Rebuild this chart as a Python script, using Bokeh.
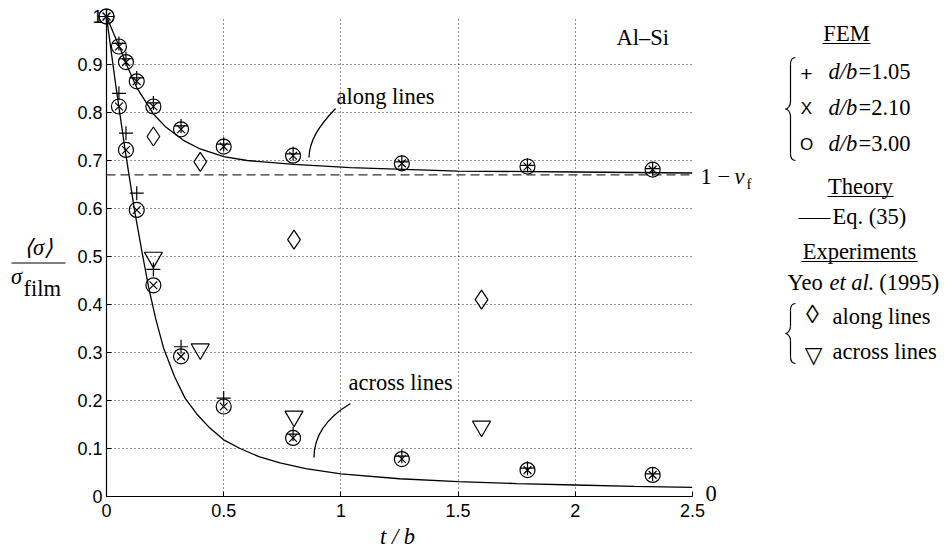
from bokeh.plotting import figure
from bokeh.models import Range1d, CustomJSTickFormatter, Span
from bokeh.core.properties import value
from bokeh.embed import file_html
from bokeh.resources import INLINE

# ---------------- data ----------------
x_ticks = [0, 0.5, 1, 1.5, 2, 2.5]
y_ticks = [0, 0.1, 0.2, 0.3, 0.4, 0.5, 0.6, 0.7, 0.8, 0.9, 1.0]

# FEM results (t/b)
t_fem = [0, 0.053, 0.083, 0.129, 0.2, 0.318, 0.5, 0.796, 1.26, 1.796, 2.33]
along_db105 = [1.0, 0.944, 0.912, 0.872, 0.82, 0.772, 0.734, 0.714, 0.697, 0.69, 0.683]
along_db210 = [1.0, 0.9375, 0.905, 0.865, 0.8125, 0.765, 0.729, 0.71, 0.694, 0.6875, 0.681]
along_db300 = [1.0, 0.9375, 0.905, 0.865, 0.8125, 0.765, 0.729, 0.71, 0.694, 0.6875, 0.681]
across_db105 = [1.0, 0.84, 0.757, 0.632, 0.473, 0.312, 0.205, 0.13, 0.084, 0.059, 0.047]
across_db210 = [1.0, 0.8125, 0.722, 0.597, 0.44, 0.292, 0.1875, 0.122, 0.078, 0.055, 0.045]
across_db300 = [1.0, 0.8125, 0.722, 0.597, 0.44, 0.292, 0.1875, 0.122, 0.078, 0.055, 0.045]

# Experiments, Yeo et al. (1995)
t_exp = [0.2, 0.4, 0.8, 1.6]
exp_along = [0.75, 0.697, 0.535, 0.41]
exp_across = [0.498, 0.307, 0.167, 0.146]

# Theory, Eq. (35)
t_eq35_along = [0, 0.03, 0.057, 0.09, 0.129, 0.2, 0.25, 0.328, 0.4, 0.5, 0.6,
                0.8, 1.04, 1.5, 2.0, 2.5]
eq35_along = [1.0, 0.965, 0.935, 0.895, 0.852, 0.797, 0.771, 0.742, 0.724, 0.708,
              0.700, 0.692, 0.685, 0.678, 0.676, 0.674]
t_eq35_across = [0, 0.04, 0.08, 0.12, 0.155, 0.18, 0.21, 0.243, 0.29, 0.335, 0.385,
                 0.44, 0.5, 0.57, 0.65, 0.74, 0.85, 1.0, 1.25, 1.5, 1.75, 2.0, 2.25, 2.5]
eq35_across = [1.0, 0.855, 0.72, 0.595, 0.5, 0.435, 0.37, 0.31, 0.25, 0.205, 0.172,
               0.143, 0.118, 0.1, 0.083, 0.07, 0.058, 0.047, 0.037, 0.031, 0.027,
               0.024, 0.021, 0.019]

one_minus_nu_f = 0.67

# ---------------- layout ----------------
W, H = 946, 551
L, R, T, B = 106, 254, 16, 55
FW, FH = W - L - R, H - T - B
X0, X1, Y0, Y1 = 0, 2.5, 0, 1.0


def DX(px):
    return X0 + (px - L) / FW * (X1 - X0)


def DY(py):
    return Y0 + (H - B - py) / FH * (Y1 - Y0)


SERIF = "Liberation Serif"
SANS = "Liberation Sans"
FSZ = 22.5

p = figure(width=W, height=H, x_range=Range1d(X0, X1), y_range=Range1d(Y0, Y1),
           output_backend="svg", toolbar_location=None, title=None,
           min_border_left=L, min_border_right=R, min_border_top=T,
           min_border_bottom=B)
p.outline_line_color = None
p.background_fill_color = "white"
p.border_fill_color = "white"

fmt = CustomJSTickFormatter(code="return String(Math.round(tick*10)/10)")
for ax, ticks in ((p.xaxis, x_ticks), (p.yaxis, y_ticks)):
    ax.ticker = ticks
    ax.formatter = fmt
    ax.major_tick_in = 5
    ax.major_tick_out = 0
    ax.minor_tick_line_color = None
    ax.axis_line_color = "black"
    ax.axis_line_width = 1.2
    ax.major_tick_line_color = "black"
    ax.major_label_text_font = SANS
    ax.major_label_text_font_size = "18px"
    ax.major_label_text_color = "black"
p.xaxis.major_label_standoff = 7
p.yaxis.major_label_standoff = 4

for g in (p.xgrid, p.ygrid):
    g.grid_line_color = "black"
    g.grid_line_alpha = 0.85
    g.grid_line_dash = "1 3"
    g.grid_line_width = 1

# asymptote 1 - nu_f
p.add_layout(Span(location=one_minus_nu_f, dimension="width", line_color="#333333",
                  line_dash="9 5", line_width=1.1))

# theory curves
p.line(t_eq35_along, eq35_along, line_color="black", line_width=1.3)
p.line(t_eq35_across, eq35_across, line_color="black", line_width=1.3)


def mark(xs, ys, marker, size, lw=1.2):
    r = p.scatter(xs, ys, marker=marker, size=size, fill_color=None,
                  line_color="black", line_width=lw)
    r.level = "overlay"
    return r


# FEM markers
mark(t_fem, along_db300, "circle", 15)
mark(t_fem, along_db210, "x", 11)
mark(t_fem, along_db105, "cross", 14)
mark(t_fem, across_db300, "circle", 15)
mark(t_fem, across_db210, "x", 11)
mark(t_fem, across_db105, "cross", 14)

# experiments
mark(t_exp, exp_along, "diamond", 19)
mark(t_exp, exp_across, "inverted_triangle", 18)


def lab(text, px, py, size=FSZ, font=SERIF, style="normal", align="left"):
    # py is the desired alphabetic baseline (pixels from top)
    py = py - 0.31 * size
    r = p.text(x=[DX(px)], y=[DY(py)], text=[text], text_font=value(font),
               text_font_size=value(f"{size}px"), text_font_style=value(style),
               text_align=value(align), text_baseline=value("alphabetic"),
               text_color="black")
    r.level = "overlay"


def bez(segs, lw=1.3):
    r = p.bezier(x0=[DX(s[0][0]) for s in segs], y0=[DY(s[0][1]) for s in segs],
                 cx0=[DX(s[1][0]) for s in segs], cy0=[DY(s[1][1]) for s in segs],
                 cx1=[DX(s[2][0]) for s in segs], cy1=[DY(s[2][1]) for s in segs],
                 x1=[DX(s[3][0]) for s in segs], y1=[DY(s[3][1]) for s in segs],
                 line_color="black", line_width=lw)
    r.level = "overlay"


def seg(pts, lw=1.3):
    r = p.segment(x0=[DX(a[0]) for a, b in pts], y0=[DY(a[1]) for a, b in pts],
                  x1=[DX(b[0]) for a, b in pts], y1=[DY(b[1]) for a, b in pts],
                  line_color="black", line_width=lw)
    r.level = "overlay"


# in-plot annotations
lab("Al–Si", 616, 44)
lab("along lines", 336, 103)
lab("across lines", 348, 389)
bez([((308.5, 157), (309, 140), (318, 126), (335, 108))])
bez([((313.5, 457), (313.5, 433), (330, 415), (350, 403))])

# right-side labels
lab("1 −", 700, 183)
lab("ν", 734, 183, style="italic")
lab("f", 746, 188, size=15)
lab("0", 705, 500)

# axis labels
lab("t / b", 397, 543, style="italic", align="center")
lab("⟨σ⟩", 38, 254, align="center", style="italic")
seg([((11, 262.5), (65, 262.5))], lw=1.2)
lab("σ", 16, 283, align="center", style="italic")
lab("film", 23, 295)

# ---- legend ----
lab("FEM", 846, 40, align="center")
seg([((822, 43), (870, 43))], lw=1.1)


def brace(xr, top, bot):
    mid = (top + bot) / 2
    xs, xt = xr - 5, xr - 10
    bez([((xr, top), (xs + 1, top), (xs, top + 3), (xs, top + 7)),
         ((xs, mid - 7), (xs, mid - 3), (xt + 2, mid), (xt, mid)),
         ((xt, mid), (xt + 2, mid), (xs, mid + 3), (xs, mid + 7)),
         ((xs, bot - 7), (xs, bot - 3), (xs + 1, bot), (xr, bot))], lw=1.2)
    seg([((xs, top + 7), (xs, mid - 7)), ((xs, mid + 7), (xs, bot - 7))], lw=1.2)


brace(795, 57, 160)
lab("+", 806, 80, size=21, font=SANS, align="center")
lab("X", 806, 113.5, size=17, font=SANS, align="center")
lab("O", 806, 149.5, size=17, font=SANS, align="center")
for yb, txt in ((78, "=1.05"), (113.5, "=2.10"), (149.5, "=3.00")):
    lab("d/b", 828, yb, style="italic")
    lab(txt, 858, yb)

lab("Theory", 860, 193, align="center")
seg([((827, 196), (893, 196))], lw=1.1)
seg([((798, 218), (830, 218))], lw=1.2)
lab("Eq. (35)", 832, 223)
lab("Experiments", 859, 258, align="center")
seg([((801, 261), (917, 261))], lw=1.1)
lab("Yeo", 787, 289)
lab("et al", 829, 289, style="italic")
lab(". (1995)", 867.5, 289)
brace(795, 303, 363)
lab("◊", 812, 322, size=26, align="center")
lab("▽", 813, 361.5, size=23, font="DejaVu Sans", align="center")
lab("along lines", 832, 323)
lab("across lines", 832, 358)

open("out.html", "w").write(file_html(p, INLINE))
